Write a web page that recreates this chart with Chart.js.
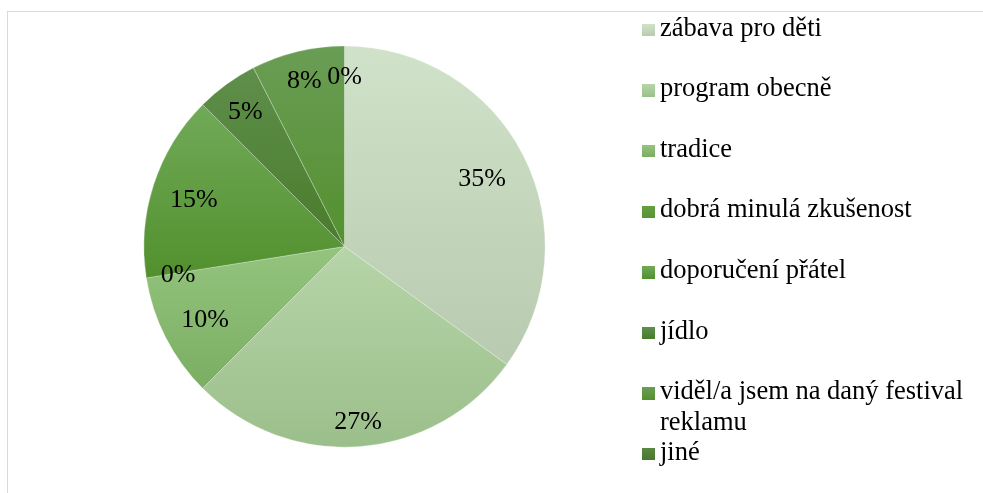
<!DOCTYPE html>
<html><head><meta charset="utf-8">
<script src="https://cdn.jsdelivr.net/npm/chart.js@4"></script>
<style>
html,body{margin:0;padding:0;background:#fff;}
#wrap{position:relative;width:983px;height:493px;overflow:hidden;}
#frame{position:absolute;left:7px;top:11px;width:1000px;height:600px;border-top:1.5px solid #d9d9d9;border-left:1.5px solid #d9d9d9;}
#c{position:absolute;left:0;top:0;}
.item{position:absolute;left:642px;width:335px;font-family:'Liberation Serif','Times New Roman',serif;font-size:26.5px;line-height:31px;color:#000;}
.box{position:absolute;left:0;width:12.5px;height:12.5px;}
.txt{display:block;margin-left:18px;}
</style></head>
<body>
<div id="wrap">
  <div id="frame"></div>
  <canvas id="c" width="983" height="493"></canvas>
  <div id="legend"></div>
</div>
<script>
const categories = ['zábava pro děti','program obecně','tradice','dobrá minulá zkušenost','doporučení přátel','jídlo','viděl/a jsem na daný festival reklamu','jiné'];
const shares = [35, 27.5, 10, 0, 15, 5, 7.5, 0];
const pctLabels = ['35%','27%','10%','0%','15%','5%','8%','0%'];
const colorsTop = ['#d0e2c9','#b6d5a8','#94c47e','#64a042','#71aa58','#5f8f4b','#6a9d55','#5a8842'];
const colorsBottom = ['#b8cbb0','#9bbf8b','#7aae62','#579434','#52902e','#497c2c','#54902f','#4a7830'];

function sliceGradient(ctx){
  const chart = ctx.chart, a = chart.chartArea, i = ctx.dataIndex;
  if(!a) return colorsTop[i];
  const cx=(a.left+a.right)/2, cy=(a.top+a.bottom)/2, r=Math.min(a.width,a.height)/2;
  const total = shares.reduce((s,v)=>s+v,0);
  let before=0; for(let k=0;k<i;k++) before+=shares[k];
  const s0=-Math.PI/2+before/total*2*Math.PI, s1=s0+shares[i]/total*2*Math.PI;
  const ys=[cy, cy+r*Math.sin(s0), cy+r*Math.sin(s1)];
  for(const t of [-Math.PI/2, Math.PI/2, 3*Math.PI/2]) if(t>=s0 && t<=s1) ys.push(cy+r*Math.sin(t));
  const y0=Math.min(...ys), y1=Math.max(...ys);
  const g = chart.ctx.createLinearGradient(0,y0,0,Math.max(y1,y0+1));
  g.addColorStop(0,colorsTop[i]); g.addColorStop(1,colorsBottom[i]);
  return g;
}

const labelPlugin = {
  id:'pctLabels',
  afterDatasetsDraw(chart, args, opts){
    const meta = chart.getDatasetMeta(0), c = chart.ctx;
    c.save(); c.font = opts.font; c.fillStyle = opts.color; c.textAlign='center'; c.textBaseline='middle';
    meta.data.forEach((arc,i)=>{
      const p = arc.getProps(['x','y','startAngle','endAngle','outerRadius'], true);
      const mid=(p.startAngle+p.endAngle)/2, rr=p.outerRadius*opts.radius[i];
      c.fillText(pctLabels[i], p.x+Math.cos(mid)*rr, p.y+Math.sin(mid)*rr + opts.dy);
    });
    c.restore();
  }
};

new Chart(document.getElementById('c'), {
  type:'pie',
  data:{ labels:categories, datasets:[{ data:shares, backgroundColor:sliceGradient, borderColor:'rgba(255,255,255,0.35)', borderWidth:0.75 }]},
  options:{
    responsive:false, animation:false,
    layout:{ padding:{ left:143.5, top:45.5, right:437.5, bottom:45.5 } },
    plugins:{
      legend:{display:false}, tooltip:{enabled:false},
      pctLabels:{ font:"26px 'Liberation Serif', 'Times New Roman', serif", color:'#000', dy:2.5,
        radius:[0.77,0.865,0.78,0.84,0.79,0.84,0.86,0.855] }
    }
  },
  plugins:[labelPlugin]
});

// HTML legend built from the category arrays
const legend = document.getElementById('legend');
const firstCenter = 30, step = 60.6;
categories.forEach((name,i)=>{
  const center = firstCenter + i*step;
  const item = document.createElement('div');
  item.className='item'; item.style.top=(center-18.45)+'px';
  const box = document.createElement('span');
  box.className='box'; box.style.top='12.2px';
  box.style.background='linear-gradient('+colorsTop[i]+','+colorsBottom[i]+')';
  const t = document.createElement('span'); t.className='txt'; t.textContent=name;
  item.appendChild(box); item.appendChild(t); legend.appendChild(item);
});
</script>
</body></html>
